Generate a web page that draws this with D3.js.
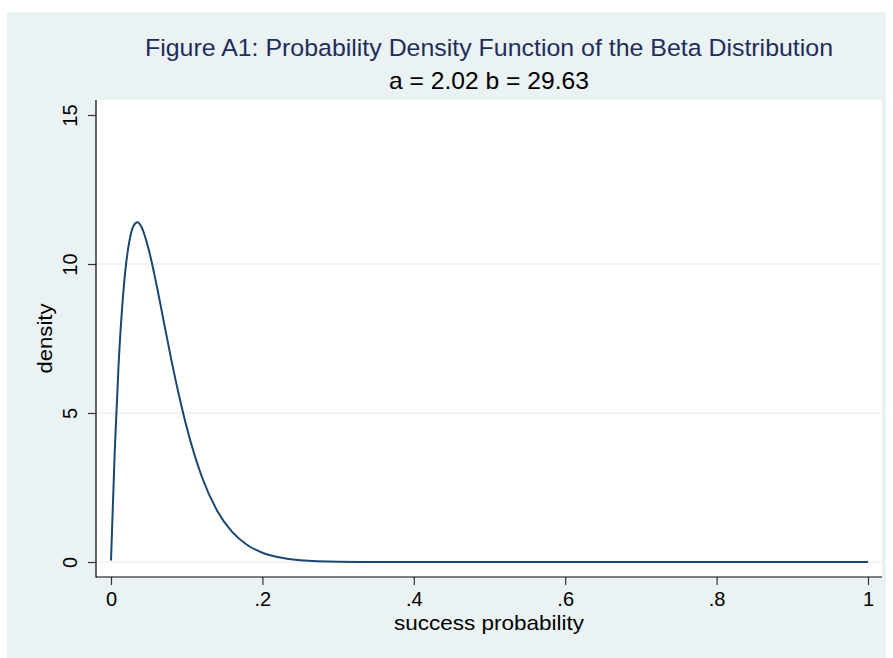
<!DOCTYPE html>
<html>
<head>
<meta charset="utf-8">
<script src="https://cdn.jsdelivr.net/npm/d3@7"></script>
<style>
  html, body { margin: 0; padding: 0; background: #ffffff; }
  svg { display: block; font-family: Arial, "Liberation Sans", Helvetica, sans-serif; }
</style>
</head>
<body>
<svg id="chart" width="893" height="658"></svg>
<script>
// ---- data ----
const successProb = [0, 0.005, 0.01, 0.015, 0.02, 0.025, 0.03, 0.035, 0.04, 0.05, 0.06, 0.07, 0.08, 0.09, 0.10, 0.12, 0.14, 0.16, 0.18, 0.20, 0.22, 0.25, 0.30, 0.35, 0.40, 0.50, 0.60, 0.70, 0.80, 0.90, 1.0];
const density     = [0.05, 3.76, 6.61, 8.64, 10.02, 10.86, 11.29, 11.40, 11.26, 10.47, 9.32, 8.03, 6.75, 5.57, 4.52, 2.86, 1.73, 1.01, 0.57, 0.31, 0.17, 0.06, 0.01, 0.002, 0, 0, 0, 0, 0, 0, 0];
const xTicks = [0, 0.2, 0.4, 0.6, 0.8, 1];
const xTickLabels = ["0", ".2", ".4", ".6", ".8", "1"];
const yTicks = [0, 5, 10, 15];
const yTickLabels = ["0", "5", "10", "15"];
const titleText = "Figure A1: Probability Density Function of the Beta Distribution";
const subtitleText = "a = 2.02 b = 29.63";
const xTitle = "success probability";
const yTitle = "density";

// ---- layout ----
const svg = d3.select("#chart");
const bg = { x: 7, y: 12, w: 879, h: 646 };
const plot = { left: 96, right: 882, top: 100, bottom: 577 };

svg.append("rect").attr("x", bg.x).attr("y", bg.y).attr("width", bg.w).attr("height", bg.h).attr("fill", "#eaf2f3");
svg.append("rect").attr("x", plot.left).attr("y", plot.top)
  .attr("width", plot.right - plot.left).attr("height", plot.bottom - plot.top).attr("fill", "#ffffff");

const x = d3.scaleLinear().domain([0, 1]).range([111, 868]);
const y = d3.scaleLinear().domain([0, 15]).range([562, 115]);

// gridlines
svg.append("g").selectAll("line").data(yTicks.filter(d => d < 15)).join("line")
  .attr("x1", plot.left + 1).attr("x2", plot.right)
  .attr("y1", d => y(d)).attr("y2", d => y(d))
  .attr("stroke", "#eaf2f3").attr("stroke-width", 1.6);

// axes
const yAxis = d3.axisLeft(y).tickValues(yTicks).tickFormat((d, i) => yTickLabels[i]).tickSize(8);
const gy = svg.append("g").attr("transform", `translate(${plot.left},0)`).call(yAxis);
gy.select(".domain").remove();
gy.selectAll(".tick line").attr("stroke", "#333").attr("stroke-width", 1.2);
gy.selectAll(".tick text")
  .attr("font-size", 20).attr("fill", "#000")
  .attr("transform", "translate(-19,0) rotate(-90)")
  .attr("x", 0).attr("y", 0).attr("dy", 0).attr("text-anchor", "middle");

const xAxis = d3.axisBottom(x).tickValues(xTicks).tickFormat((d, i) => xTickLabels[i]).tickSize(8);
const gx = svg.append("g").attr("transform", `translate(0,${plot.bottom})`).call(xAxis);
gx.select(".domain").remove();
gx.selectAll(".tick line").attr("stroke", "#333").attr("stroke-width", 1.2);
gx.selectAll(".tick text").attr("font-size", 20).attr("fill", "#000").attr("y", 29).attr("dy", 0);

// axis lines
svg.append("line").attr("x1", plot.left).attr("x2", plot.left).attr("y1", plot.top).attr("y2", plot.bottom + 0.5)
  .attr("stroke", "#000").attr("stroke-width", 1.2);
svg.append("line").attr("x1", plot.left).attr("x2", plot.right).attr("y1", plot.bottom).attr("y2", plot.bottom)
  .attr("stroke", "#000").attr("stroke-width", 1.2);

// curve
const pts = successProb.map((p, i) => [p, density[i]]);
svg.append("path").datum(pts)
  .attr("d", d3.line().x(d => x(d[0])).y(d => y(d[1])).curve(d3.curveMonotoneX))
  .attr("fill", "none").attr("stroke", "#1a476f").attr("stroke-width", 2);

// titles
const cx = (plot.left + plot.right) / 2;
svg.append("text").attr("x", cx).attr("y", 56).attr("text-anchor", "middle")
  .attr("font-size", 24.5).attr("fill", "#1e2d5a")
  .attr("textLength", 688).attr("lengthAdjust", "spacingAndGlyphs").text(titleText);
svg.append("text").attr("x", cx).attr("y", 89).attr("text-anchor", "middle")
  .attr("font-size", 24).attr("fill", "#000")
  .attr("textLength", 200).attr("lengthAdjust", "spacingAndGlyphs").text(subtitleText);
svg.append("text").attr("x", cx).attr("y", 630).attr("text-anchor", "middle")
  .attr("font-size", 21).attr("fill", "#000")
  .attr("textLength", 190).attr("lengthAdjust", "spacingAndGlyphs").text(xTitle);
svg.append("text").attr("transform", `translate(52,${(plot.top + plot.bottom) / 2}) rotate(-90)`)
  .attr("text-anchor", "middle").attr("font-size", 21).attr("fill", "#000")
  .attr("textLength", 70).attr("lengthAdjust", "spacingAndGlyphs").text(yTitle);
</script>
</body>
</html>
